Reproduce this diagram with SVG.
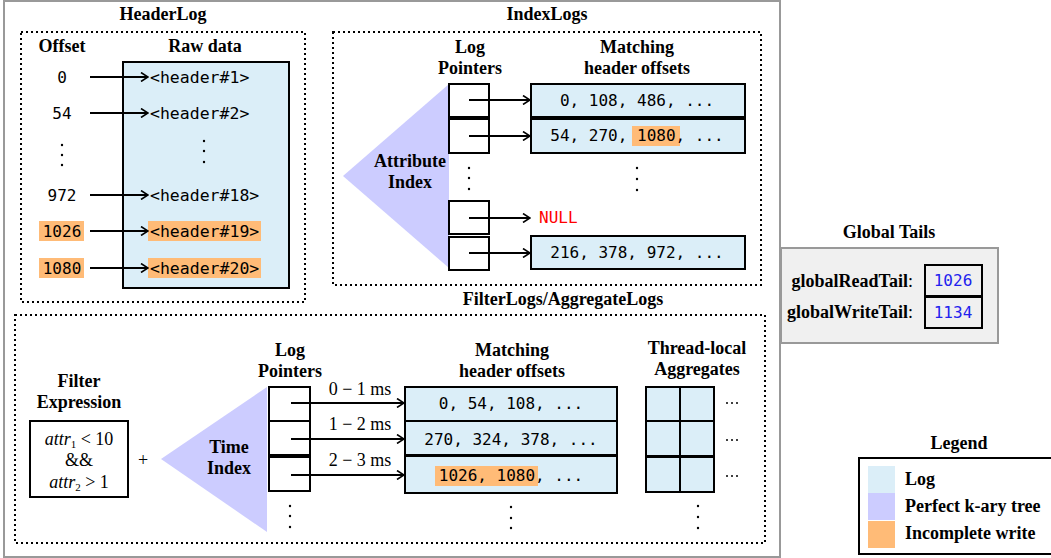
<svg xmlns="http://www.w3.org/2000/svg" width="1051" height="558" viewBox="0 0 1051 558">
<style>
.t{font-family:"Liberation Serif",serif;font-weight:bold;font-size:18px;fill:#000}
.r{font-family:"Liberation Serif",serif;font-size:18px;fill:#000}
.m{font-family:"DejaVu Sans Mono","Liberation Mono",monospace;font-size:16px;fill:#000}
.h{font-size:16.5px}
.dot{stroke:#000;stroke-width:2;fill:none;stroke-dasharray:2 3}
.log{fill:#dbeef8;stroke:#000;stroke-width:2}
.ptr{fill:#fff;stroke:#000;stroke-width:2}
.tree{fill:#ccccff}
.inc{fill:#ffbb77}
.ar{stroke:#000;stroke-width:2;fill:none;marker-end:url(#ah)}
.d{fill:#000}
</style>
<defs>
<marker id="ah" viewBox="0 0 10 10" refX="9" refY="5" markerWidth="10" markerHeight="10" markerUnits="userSpaceOnUse" orient="auto">
<path d="M2,0.5 L9,5 L2,9.5" fill="none" stroke="#000" stroke-width="1.6"/>
</marker>
</defs>
<rect x="4" y="1" width="776" height="556" fill="#fff" stroke="#999" stroke-width="2"/>

<g id="headerlog">
<text class="t" x="163" y="20" text-anchor="middle">HeaderLog</text>
<rect class="dot" x="21" y="32" width="284" height="270"/>
<text class="t" x="62" y="52" text-anchor="middle">Offset</text>
<text class="t" x="205" y="52" text-anchor="middle">Raw data</text>
<rect class="log" x="123" y="62" width="166" height="226"/>
<rect class="inc" x="39" y="221" width="45" height="20"/>
<rect class="inc" x="39" y="258" width="45" height="20"/>
<rect class="inc" x="148" y="221" width="113" height="20"/>
<rect class="inc" x="148" y="258" width="113" height="20"/>
<g class="m" text-anchor="middle">
<text x="62" y="83">0</text>
<text x="62" y="119">54</text>
<text x="62" y="201">972</text>
<text x="62" y="237">1026</text>
<text x="62" y="274">1080</text>
</g>
<g class="m h">
<text x="150" y="83">&lt;header#1&gt;</text>
<text x="150" y="119">&lt;header#2&gt;</text>
<text x="150" y="201">&lt;header#18&gt;</text>
<text x="150" y="237">&lt;header#19&gt;</text>
<text x="150" y="274">&lt;header#20&gt;</text>
</g>
<circle class="d" cx="62" cy="145" r="1.2"/><circle class="d" cx="62" cy="155" r="1.2"/><circle class="d" cx="62" cy="165" r="1.2"/>
<circle class="d" cx="204" cy="141" r="1.2"/><circle class="d" cx="204" cy="151" r="1.2"/><circle class="d" cx="204" cy="162" r="1.2"/>
</g>

<g id="indexlogs">
<text class="t" x="547" y="20" text-anchor="middle">IndexLogs</text>
<rect class="dot" x="333" y="32" width="428" height="253"/>
<text class="t" x="470" y="53" text-anchor="middle">Log</text>
<text class="t" x="470" y="74" text-anchor="middle">Pointers</text>
<text class="t" x="637" y="53" text-anchor="middle">Matching</text>
<text class="t" x="637" y="74" text-anchor="middle">header offsets</text>
<polygon class="tree" points="343,176 449,84 449,268"/>
<text class="t" x="410" y="167" text-anchor="middle">Attribute</text>
<text class="t" x="410" y="188" text-anchor="middle">Index</text>
<rect class="ptr" x="449" y="84" width="40" height="33"/>
<rect class="ptr" x="449" y="119" width="40" height="34"/>
<rect class="ptr" x="449" y="201" width="40" height="33"/>
<rect class="ptr" x="449" y="237" width="40" height="33"/>
<rect class="log" x="531" y="84" width="214" height="33"/>
<rect class="log" x="531" y="119" width="214" height="34"/>
<rect class="log" x="531" y="236" width="214" height="33"/>
<rect class="inc" x="632" y="126" width="48" height="20"/>
<g class="m" text-anchor="middle">
<text x="637" y="106">0, 108, 486, ...</text>
<text x="637" y="141">54, 270, 1080, ...</text>
<text x="637" y="258">216, 378, 972, ...</text>
</g>
<text class="m" x="539" y="223" style="fill:#ff0000">NULL</text>
<circle class="d" cx="469" cy="168" r="1.2"/><circle class="d" cx="469" cy="178" r="1.2"/><circle class="d" cx="469" cy="189" r="1.2"/>
<circle class="d" cx="637" cy="168" r="1.2"/><circle class="d" cx="637" cy="179" r="1.2"/><circle class="d" cx="637" cy="190" r="1.2"/>
</g>

<g id="globaltails">
<text class="t" x="889" y="238" text-anchor="middle">Global Tails</text>
<rect x="781" y="248" width="217" height="95" fill="#f0f0f0" stroke="#999" stroke-width="2"/>
<text class="t" x="913" y="287" text-anchor="end">globalReadTail<tspan font-weight="normal">:</tspan></text>
<text class="t" x="913" y="318" text-anchor="end">globalWriteTail<tspan font-weight="normal">:</tspan></text>
<rect x="925" y="265" width="57" height="31" fill="#f0f0f0" stroke="#000" stroke-width="2"/>
<rect x="925" y="297" width="57" height="31" fill="#f0f0f0" stroke="#000" stroke-width="2"/>
<text class="m" x="953" y="286" text-anchor="middle" style="fill:#2222ee">1026</text>
<text class="m" x="953" y="318" text-anchor="middle" style="fill:#2222ee">1134</text>
</g>

<g id="filterlogs">
<text class="t" x="563" y="305" text-anchor="middle">FilterLogs/AggregateLogs</text>
<rect class="dot" x="15" y="315" width="750" height="228"/>
<text class="t" x="79" y="387" text-anchor="middle">Filter</text>
<text class="t" x="79" y="408" text-anchor="middle">Expression</text>
<rect x="30" y="421" width="98" height="76" fill="#fff" stroke="#000" stroke-width="2"/>
<text class="r" x="79" y="445" text-anchor="middle"><tspan font-style="italic">attr</tspan><tspan font-size="11" dy="3">1</tspan><tspan dy="-3"> &lt; 10</tspan></text>
<text class="r" x="79" y="466" text-anchor="middle">&amp;&amp;</text>
<text class="r" x="79" y="488" text-anchor="middle"><tspan font-style="italic">attr</tspan><tspan font-size="11" dy="3">2</tspan><tspan dy="-3"> &gt; 1</tspan></text>
<text class="r" x="143" y="466" text-anchor="middle">+</text>
<polygon class="tree" points="161,459 267,387 267,532"/>
<text class="t" x="229" y="453" text-anchor="middle">Time</text>
<text class="t" x="229" y="474" text-anchor="middle">Index</text>
<text class="t" x="290" y="356" text-anchor="middle">Log</text>
<text class="t" x="290" y="377" text-anchor="middle">Pointers</text>
<rect class="ptr" x="269" y="387" width="41" height="34"/>
<rect class="ptr" x="269" y="421" width="41" height="34"/>
<rect class="ptr" x="269" y="457" width="41" height="34"/>
<text class="r" x="360" y="395" text-anchor="middle">0 − 1 ms</text>
<text class="r" x="360" y="430" text-anchor="middle">1 − 2 ms</text>
<text class="r" x="360" y="466" text-anchor="middle">2 − 3 ms</text>
<text class="t" x="512" y="356" text-anchor="middle">Matching</text>
<text class="t" x="512" y="377" text-anchor="middle">header offsets</text>
<rect class="log" x="405" y="387" width="212" height="34"/>
<rect class="log" x="405" y="421" width="212" height="34"/>
<rect class="log" x="405" y="456" width="212" height="37"/>
<rect class="inc" x="435" y="466" width="103" height="20"/>
<g class="m" text-anchor="middle">
<text x="511" y="409">0, 54, 108, ...</text>
<text x="511" y="445">270, 324, 378, ...</text>
<text x="511" y="481">1026, 1080, ...</text>
</g>
<text class="t" x="697" y="354" text-anchor="middle">Thread-local</text>
<text class="t" x="697" y="375" text-anchor="middle">Aggregates</text>
<g class="log">
<rect x="646" y="387" width="34" height="34"/><rect x="680" y="387" width="34" height="34"/>
<rect x="646" y="421" width="34" height="35"/><rect x="680" y="421" width="34" height="35"/>
<rect x="646" y="457" width="34" height="35"/><rect x="680" y="457" width="34" height="35"/>
</g>
<g class="d">
<circle cx="727" cy="403" r="1"/><circle cx="732" cy="403" r="1"/><circle cx="737" cy="403" r="1"/>
<circle cx="727" cy="440" r="1"/><circle cx="732" cy="440" r="1"/><circle cx="737" cy="440" r="1"/>
<circle cx="727" cy="476" r="1"/><circle cx="732" cy="476" r="1"/><circle cx="737" cy="476" r="1"/>
<circle cx="290" cy="506" r="1.2"/><circle cx="290" cy="516" r="1.2"/><circle cx="290" cy="527" r="1.2"/>
<circle cx="511" cy="507" r="1.2"/><circle cx="511" cy="518" r="1.2"/><circle cx="511" cy="528" r="1.2"/>
<circle cx="698" cy="506" r="1.2"/><circle cx="698" cy="517" r="1.2"/><circle cx="698" cy="528" r="1.2"/>
</g>
</g>

<g id="connectors">
<line class="ar" x1="90" y1="77" x2="148" y2="77"/>
<line class="ar" x1="90" y1="113" x2="148" y2="113"/>
<line class="ar" x1="90" y1="195" x2="148" y2="195"/>
<line class="ar" x1="90" y1="231" x2="148" y2="231"/>
<line class="ar" x1="90" y1="268" x2="148" y2="268"/>
<line class="ar" x1="469" y1="100" x2="530" y2="100"/>
<line class="ar" x1="469" y1="136" x2="530" y2="136"/>
<line class="ar" x1="469" y1="218" x2="530" y2="218"/>
<line class="ar" x1="469" y1="253" x2="530" y2="253"/>
<line class="ar" x1="291" y1="403" x2="404" y2="403"/>
<line class="ar" x1="291" y1="439" x2="404" y2="439"/>
<line class="ar" x1="291" y1="475" x2="404" y2="475"/>
</g>

<g id="legend">
<text class="t" x="959" y="449" text-anchor="middle">Legend</text>
<rect x="859" y="458" width="200" height="96" fill="#fff" stroke="#000" stroke-width="2"/>
<rect x="868" y="466" width="27" height="27" fill="#dbeef8"/>
<rect x="868" y="493" width="27" height="27" fill="#ccccff"/>
<rect x="868" y="521" width="27" height="27" fill="#ffbb77"/>
<text class="t" x="905" y="485">Log</text>
<text class="t" x="905" y="512">Perfect k-ary tree</text>
<text class="t" x="905" y="539">Incomplete write</text>
</g>
</svg>
